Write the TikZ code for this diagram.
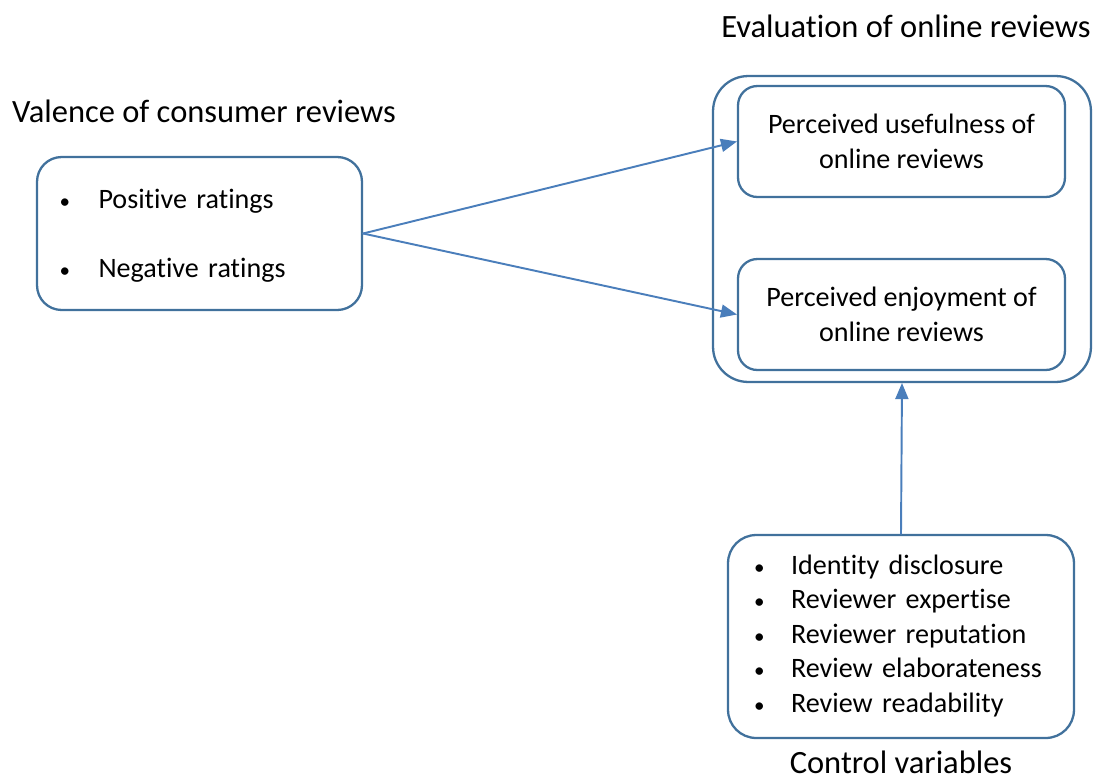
\documentclass[tikz,border=0pt]{standalone}
\usepackage{fontspec}
\setmainfont{Carlito}[Ligatures=NoCommon]
\usetikzlibrary{arrows}
\definecolor{boxblue}{RGB}{65,113,156}
\definecolor{linkblue}{RGB}{74,126,187}
\newcommand{\bul}{{\fontsize{12pt}{12pt}\selectfont\textbullet}}

\begin{document}
\begin{tikzpicture}[line cap=round,line join=round,>=triangle 45,x=0.02cm,y=-0.02cm,
		every node/.style={font=\fontsize{16pt}{19.6pt}\selectfont},
		grouptitle/.style={font=\fontsize{18.5pt}{22pt}\selectfont},
		box/.style={draw=boxblue,line width=1.3pt,inner ysep=0pt},
		link/.style={->,draw=linkblue,line width=1.1pt}]
		\useasboundingbox (0,0) rectangle (1100,782);
		% group titles
		\node[grouptitle] (valtitle) at (204,111) {Valence of consumer reviews};
		\node[grouptitle] (evaltitle) at (906,26) {Evaluation of online reviews};
		\node[grouptitle] (ctrltitle) at (901,762) {Control variables};
		% valence
		\node[box,rounded corners=14pt,minimum width=6.5cm,minimum height=3.06cm,inner xsep=0.45cm,text width=5.6cm,align=left] (valbox) at (199.5,233.5)
			{\fontsize{16pt}{39pt}\selectfont\raisebox{2.3pt}[\height][\depth]{\begin{tabular}{@{}p{0.78cm}@{}l@{}}\bul & Positive ratings\\ \bul & Negative ratings\end{tabular}}};
		% evaluation
		\node[box,rounded corners=20pt,minimum width=7.56cm,minimum height=6.12cm] (evalbox) at (902,229) {};
		\node[box,rounded corners=11pt,minimum width=6.54cm,minimum height=2.22cm,align=center] (usebox) at (901.5,141.5) {Perceived usefulness of\\online reviews};
		\node[box,rounded corners=11pt,minimum width=6.54cm,minimum height=2.22cm,align=center] (joybox) at (901.5,314.5) {Perceived enjoyment of\\online reviews};
		% controls
		\node[box,rounded corners=16pt,minimum width=6.92cm,minimum height=4.06cm,inner xsep=0.52cm,text width=5.88cm,align=left] (ctrlbox) at (901,636.5)
			{\begin{tabular}{@{}p{0.74cm}@{}l@{}}\bul & Identity disclosure\\ \bul & Reviewer expertise\\ \bul & Reviewer reputation\\ \bul & Review elaborateness\\ \bul & Review readability\end{tabular}};
		\draw[link] (valbox.east) -- (usebox.west);
		\draw[link] (valbox.east) -- (joybox.west);
		\draw[link] (ctrlbox.north) -- (evalbox.south);
	\end{tikzpicture}
\end{document}
